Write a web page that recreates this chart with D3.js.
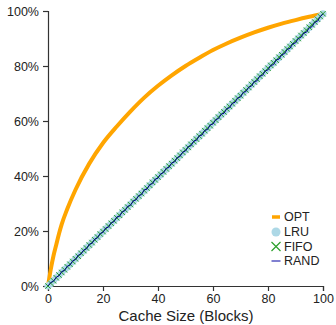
<!DOCTYPE html>
<html>
<head>
<meta charset="utf-8">
<script src="https://cdn.jsdelivr.net/npm/d3@7"></script>
<style>
  body { margin: 0; background: #fff; }
  svg text { font-family: "Liberation Sans", Arial, sans-serif; fill: #222; }
</style>
</head>
<body>
<div id="chart"></div>
<script>
// hit rate (%) vs cache size (blocks)
const optSizes = [0, 1, 2, 3, 4, 5, 7, 10, 15, 20, 25, 30, 35, 40, 45, 50, 55, 60, 65, 70, 75, 80, 85, 90, 95, 100];
const optHits = [0, 6, 11, 15, 19, 22.5, 28, 35, 44.5, 52, 58, 63.5, 68.5, 72.8, 76.6, 80, 83, 85.8, 88.2, 90.3, 92.2, 93.9, 95.4, 96.7, 97.9, 99];

// LRU / FIFO / RAND have one point per cache size 0..100
const lruHits = [
  0, 0.9, 2.0, 3.0, 3.9, 5.0, 6.0, 6.9, 7.9, 8.9,
  9.9, 10.9, 11.9, 12.8, 13.9, 14.8, 15.8, 16.9, 17.8, 18.8,
  19.8, 20.8, 21.8, 22.7, 23.8, 24.8, 25.7, 26.7, 27.7, 28.7,
  29.7, 30.7, 31.7, 32.6, 33.7, 34.6, 35.6, 36.6, 37.6, 38.6,
  39.6, 40.5, 41.6, 42.5, 43.5, 44.5, 45.5, 46.5, 47.5, 48.5,
  49.5, 50.5, 51.5, 52.4, 53.5, 54.4, 55.4, 56.4, 57.4, 58.4,
  59.4, 60.4, 61.4, 62.3, 63.3, 64.3, 65.3, 66.3, 67.3, 68.3,
  69.3, 70.3, 71.2, 72.2, 73.2, 74.2, 75.2, 76.2, 77.2, 78.2,
  79.2, 80.2, 81.1, 82.1, 83.1, 84.1, 85.1, 86.1, 87.1, 88.1,
  89.1, 90.1, 91.0, 92.0, 93.0, 94.0, 95.0, 96.0, 97.0, 98.0,
  99.0];
const fifoHits = [
  0, 1.0, 1.9, 3.0, 4.0, 4.9, 5.9, 7.0, 7.9, 8.9,
  9.9, 10.8, 11.9, 12.9, 13.8, 14.9, 15.8, 16.8, 17.8, 18.9,
  19.8, 20.7, 21.8, 22.8, 23.7, 24.8, 25.7, 26.8, 27.7, 28.7,
  29.6, 30.7, 31.7, 32.7, 33.6, 34.7, 35.6, 36.6, 37.7, 38.6,
  39.6, 40.6, 41.5, 42.6, 43.6, 44.5, 45.6, 46.5, 47.5, 48.6,
  49.5, 50.4, 51.5, 52.5, 53.4, 54.5, 55.4, 56.5, 57.4, 58.3,
  59.4, 60.3, 61.4, 62.4, 63.3, 64.4, 65.3, 66.3, 67.4, 68.3,
  69.2, 70.3, 71.3, 72.2, 73.3, 74.2, 75.2, 76.3, 77.2, 78.1,
  79.2, 80.2, 81.2, 82.1, 83.2, 84.1, 85.1, 86.2, 87.1, 88.1,
  89.1, 90.0, 91.1, 92.0, 93.0, 94.1, 95.0, 96.0, 97.0, 98.0,
  99.0];
const randHits = [
  0, 1.3, 1.7, 3.2, 3.7, 5.3, 5.6, 7.2, 7.6, 9.2,
  9.6, 11.2, 11.6, 13.1, 13.5, 15.2, 15.5, 17.1, 17.5, 19.1,
  19.5, 21.1, 21.4, 23.0, 23.4, 25.1, 25.3, 27.0, 27.4, 29.0,
  29.3, 31.0, 31.3, 32.9, 33.2, 35.0, 35.2, 36.9, 37.2, 38.9,
  39.2, 40.8, 41.2, 42.8, 43.1, 44.8, 45.1, 46.7, 47.1, 48.7,
  49.1, 50.7, 51.0, 52.7, 53.0, 54.6, 54.9, 56.6, 56.9, 58.6,
  58.9, 60.5, 60.9, 62.5, 62.8, 64.5, 64.8, 66.4, 66.8, 68.4,
  68.7, 70.4, 70.7, 72.3, 72.7, 74.3, 74.6, 76.3, 76.6, 78.2,
  78.6, 80.2, 80.5, 82.2, 82.5, 84.1, 84.5, 86.1, 86.4, 88.1,
  88.4, 90.0, 90.4, 92.0, 92.3, 93.9, 94.3, 95.9, 96.3, 97.9,
  99.0];

const xTicks = [0, 20, 40, 60, 80, 100];
const yTicks = [0, 20, 40, 60, 80, 100];
const legendNames = ['OPT', 'LRU', 'FIFO', 'RAND'];

// frame
const FRAME_WIDTH = 336;
const FRAME_HEIGHT = 325;

const COLORS = {opt: '#ffa500', lru: '#add8e6', fifo: '#2ca02c', rand: '#000090'};

const svg = d3.select('#chart')
  .append('svg')
  .attr('width', FRAME_WIDTH)
  .attr('height', FRAME_HEIGHT);

const x = d3.scaleLinear().domain([0, 100]).range([48, 323]);
const y = d3.scaleLinear().domain([0, 100]).range([286, 11]);

// axes
const xAxis = svg.append('g')
  .attr('transform', 'translate(0,286)')
  .call(d3.axisBottom(x).tickValues(xTicks).tickSize(5).tickSizeOuter(5).tickPadding(3));
const yAxis = svg.append('g')
  .attr('transform', 'translate(48,0)')
  .call(d3.axisLeft(y).tickValues(yTicks).tickFormat(d => d + '%').tickSize(5).tickSizeOuter(5).tickPadding(4));

[xAxis, yAxis].forEach(g => {
  g.selectAll('path, line').attr('stroke', '#333').attr('stroke-width', 1.2);
  g.selectAll('text').style('font-family', '"Liberation Sans", Arial, sans-serif')
    .style('font-size', '12.5px').attr('fill', '#222');
});

svg.append('text')
  .attr('x', 186)
  .attr('y', 321)
  .attr('text-anchor', 'middle')
  .style('font-size', '15px')
  .text('Cache Size (Blocks)');

// OPT curve
svg.append('path')
  .datum(optSizes.map((s, i) => [s, optHits[i]]))
  .attr('fill', 'none')
  .attr('stroke', COLORS.opt)
  .attr('stroke-width', 4)
  .attr('stroke-linecap', 'round')
  .attr('d', d3.line().x(d => x(d[0])).y(d => y(d[1])).curve(d3.curveMonotoneX));

// LRU circles
svg.append('g').selectAll('circle')
  .data(lruHits)
  .join('circle')
  .attr('cx', (d, i) => x(i))
  .attr('cy', d => y(d))
  .attr('r', 3.6)
  .attr('fill', COLORS.lru);

// FIFO crosses
const cross = 2.7;
svg.append('g').selectAll('path')
  .data(fifoHits)
  .join('path')
  .attr('transform', (d, i) => `translate(${x(i)},${y(d)})`)
  .attr('d', `M${-cross},${-cross}L${cross},${cross}M${-cross},${cross}L${cross},${-cross}`)
  .attr('stroke', COLORS.fifo)
  .attr('stroke-width', 1);

// RAND line
svg.append('path')
  .datum(randHits)
  .attr('fill', 'none')
  .attr('stroke', COLORS.rand)
  .attr('stroke-width', 1)
  .attr('d', d3.line().x((d, i) => x(i)).y(d => y(d)));

// legend
const legend = svg.append('g').attr('transform', 'translate(276,0)');
const legendY = [217, 232, 246.5, 261];
legendNames.forEach((name, i) => {
  const g = legend.append('g').attr('transform', `translate(0,${legendY[i]})`);
  if (name === 'OPT') {
    g.append('line').attr('x1', -4).attr('x2', 4).attr('stroke', COLORS.opt).attr('stroke-width', 3.5);
  } else if (name === 'LRU') {
    g.append('circle').attr('r', 4.5).attr('fill', COLORS.lru);
  } else if (name === 'FIFO') {
    g.append('path').attr('d', 'M-4.5,-4.5L4.5,4.5M-4.5,4.5L4.5,-4.5')
      .attr('stroke', COLORS.fifo).attr('stroke-width', 1.2);
  } else {
    g.append('line').attr('x1', -4.5).attr('x2', 4.5).attr('stroke', '#3b3bb8').attr('stroke-width', 1.3);
  }
  g.append('text')
    .attr('x', 8)
    .attr('dy', '0.35em')
    .style('font-size', '12.5px')
    .text(name);
});
</script>
</body>
</html>
